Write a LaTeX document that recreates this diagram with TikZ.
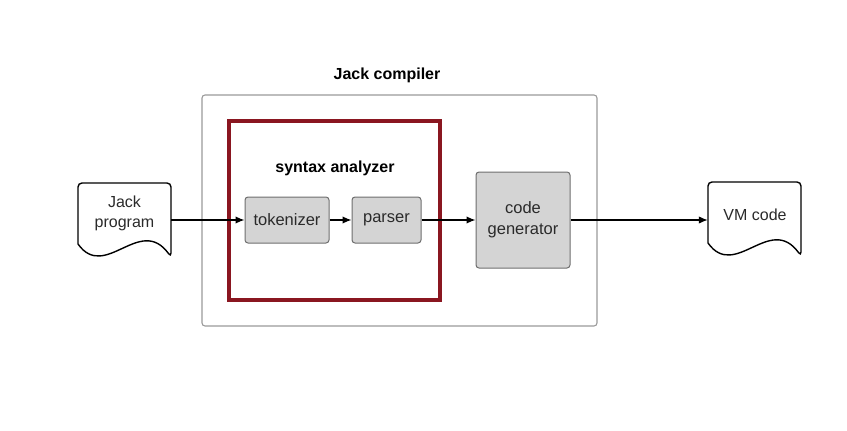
\documentclass[tikz,border=0pt]{standalone}
\usepackage{fontspec}
\setmainfont{Liberation Sans}
\usetikzlibrary{arrows.meta}
\definecolor{boxfill}{HTML}{D4D4D4}
\definecolor{boxline}{HTML}{6E6E6E}
\definecolor{frameline}{HTML}{9A9A9A}
\definecolor{analyzer}{HTML}{8A1620}
\definecolor{txt}{HTML}{2A2A2A}
\tikzset{
  stage/.style={draw=boxline, fill=boxfill, line width=1pt, rounded corners=3pt,
    inner sep=0pt, text=txt, align=center,
    font=\fontsize{16.5}{21}\selectfont},
  label/.style={text=txt, align=center, inner sep=0pt,
    font=\fontsize{16}{20}\selectfont},
  title/.style={text=black, inner sep=0pt, font=\bfseries\fontsize{16}{19}\selectfont},
  port/.style={inner sep=0pt, minimum width=93pt, minimum height=74pt},
  flow/.style={line width=1.4pt, -{Latex[length=9pt,width=7.5pt]}},
  docline/.style={line width=1.4pt, black}
}
\newcommand{\docshape}[2]{%
  \draw[docline, shift={(#1,#2)}, rounded corners=4pt]
    (0,61) -- (0,0) -- (93,0) -- (93,74) [sharp corners]
    .. controls (62,31) and (27,99) .. (0,61);}
\begin{document}
\begin{tikzpicture}[x=1pt, y=-1pt]
  \useasboundingbox (0,0) rectangle (847,431);

  % compiler frame
  \node[title] (jc) at (387,75) {Jack compiler};
  \draw[frameline, line width=1.1pt, rounded corners=3pt] (202,95) rectangle (597,326);

  % syntax analyzer frame
  \draw[analyzer, line width=3.2pt] (229,121) rectangle (440,300);
  \node[title] (sa) at (335,168) {syntax analyzer};

  % stages
  \node[stage, minimum width=84pt, minimum height=46pt] (tok) at (287,220) {tokenizer};
  \node[stage, minimum width=69pt, minimum height=46pt] (par) at (386.5,220) {parser};
  \node[stage, minimum width=94pt, minimum height=96pt] (gen) at (523,220) {code\\generator};

  % input and output documents
  \docshape{78}{183}
  \node[port] (jp) at (124.5,220) {};
  \node[label] (jpt) at (124.5,213) {Jack\\program};
  \docshape{708}{182}
  \node[port] (vm) at (754.5,220) {};
  \node[label] (vmt) at (755,215) {VM code};

  % data flow
  \draw[flow] (jp.east) -- (tok.west);
  \draw[flow] (tok.east) -- (par.west);
  \draw[flow] (par.east) -- (gen.west);
  \draw[flow] (gen.east) -- (vm.west);
\end{tikzpicture}
\end{document}
